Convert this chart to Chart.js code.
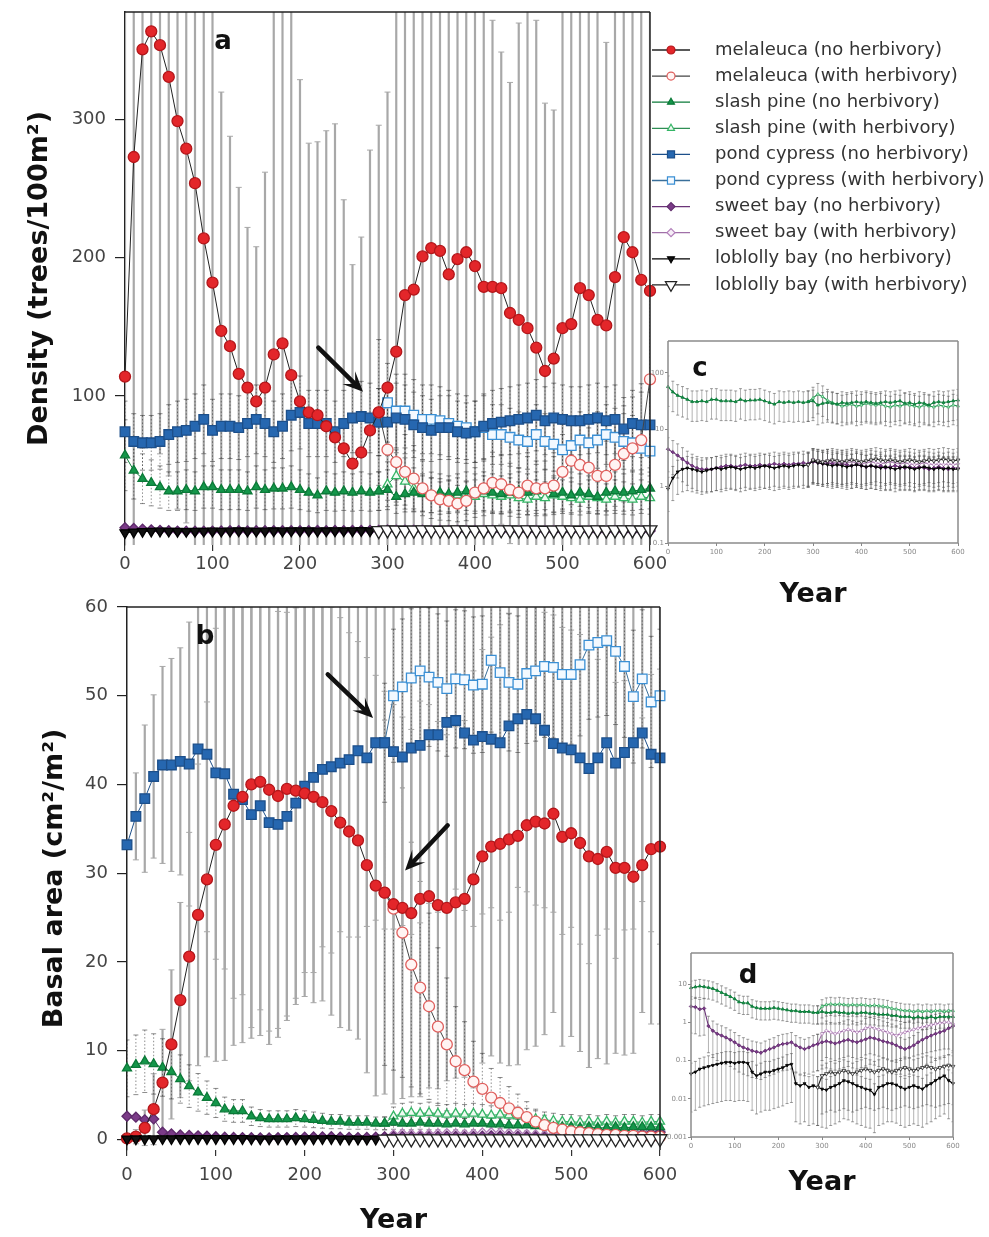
<!DOCTYPE html>
<html>
<head>
<meta charset="utf-8">
<script src="https://cdn.jsdelivr.net/npm/chart.js@4.4.1/dist/chart.umd.min.js"></script>
<style>
body { margin: 0; background: #fff; width: 989px; height: 1237px; position: relative; overflow: hidden; }
canvas { position: absolute; }
</style>
</head>
<body>
<canvas id="panelA" width="989" height="590" style="left:0px;top:0px"></canvas>
<canvas id="panelB" width="700" height="647" style="left:0px;top:590px"></canvas>
<canvas id="panelC" width="349" height="290" style="left:640px;top:330px"></canvas>
<canvas id="panelD" width="329" height="280" style="left:660px;top:930px"></canvas>
<script>
// simulation years (every 10 yr) and the years after herbivory starts
const years = [0,10,20,30,40,50,60,70,80,90,100,110,120,130,140,150,160,170,180,190,
  200,210,220,230,240,250,260,270,280,290,300,310,320,330,340,350,360,370,380,390,
  400,410,420,430,440,450,460,470,480,490,500,510,520,530,540,550,560,570,580,590,600];
const herbYears = [290,300,310,320,330,340,350,360,370,380,390,400,410,420,430,440,
  450,460,470,480,490,500,510,520,530,540,550,560,570,580,590,600];

const xTicks = [0,100,200,300,400,500,600];
const yTicksA = [100,200,300];
const yTicksB = [0,10,20,30,40,50,60];
const yTicksC = [0.1,1,10,100];
const yTicksD = [0.001,0.01,0.1,1,10];

// ---- density (trees/100m2) ----
const melA = [114,273,351,364,354,331,299,279,254,214,182,147,136,116,106,96,106,130,138,115,
  96,88,86,78,70,62,51,59,75,88,106,132,173,177,201,207,205,188,199,204,
  194,179,179,178,160,155,149,135,118,127,149,152,178,173,155,151,186,215,204,184,176];
const melASd = [306,287,289,296,296,289,281,271,266,246,218,173,152,135,116,112,156,260,262,270,
  233,195,198,214,227,180,144,156,203,208,214,288,267,273,259,263,255,252,251,246,
  236,221,193,171,167,215,251,237,194,180,251,258,242,247,245,205,234,225,226,236,234];
const melAH = [88,61,52,45,40,33,28,25,24,22,24,30,33,37,36,32,30,35,33,33,35,45,53,50,48,42,42,50,58,62,68,112];
const slashA = [57,46,40,37,34,31,31,32,31,34,34,32,32,32,31,34,32,33,33,34,
  32,30,28,31,30,31,30,31,30,31,32,27,29,30,29,28,30,29,30,31,
  30,31,30,29,30,31,30,31,32,29,30,28,30,29,27,30,31,30,31,32,33];
const slashAH = [31,36,42,38,33,30,28,26,27,28,26,27,29,28,27,28,26,25,27,26,28,27,26,25,27,26,25,27,26,25,27,26];
const pondA = [74,67,66,66,67,72,74,75,78,83,75,78,78,77,80,83,80,74,78,86,
  88,80,80,80,74,80,84,85,84,81,81,84,83,79,77,75,77,77,74,73,
  74,78,80,81,82,83,84,86,82,84,83,82,82,83,84,82,83,76,80,79,79];
const pondAH = [81,95,89,89,86,83,83,82,80,78,77,74,77,72,72,70,68,67,72,67,65,61,64,68,66,68,72,70,67,66,62,60];
const sweetA = [4.5,4.0,3.5,3.0,2.6,2.3,2.1,2.0,2.0,2.0,2.1,2.2,2.3,2.3,2.2,2.3,2.4,2.3,2.3,2.4,
  2.3,2.4,2.5,2.4,2.5,2.4,2.5,2.5,2.6,2.5,2.7,2.6,2.5,2.6,2.5,2.4,2.5,2.4,2.3,2.4,
  2.3,2.2,2.3,2.2,2.3,2.1,2.2,2.3,2.2,2.1,2.2,2.1,2.2,2.1,2.0,2.1,2.2,2.1,2.0,2.1,2.1];
const sweetAH = [2.5,2.9,2.8,2.7,2.8,2.7,2.6,2.7,2.6,2.7,2.6,2.5,2.6,2.7,2.6,2.5,2.6,2.7,2.6,2.5,2.6,2.5,2.4,2.5,2.6,2.5,2.4,2.5,2.4,2.5,2.4,2.5];
const loblollyA = [0.9,1.4,1.8,2.0,2.1,2.0,1.9,1.8,1.9,2.0,2.1,2.0,2.1,2.2,2.1,2.0,2.1,2.2,2.1,2.2,
  2.3,2.2,2.1,2.2,2.3,2.2,2.3,2.4,2.3,2.4,2.8,2.6,2.5,2.4,2.3,2.4,2.3,2.2,2.3,2.4,
  2.3,2.2,2.3,2.2,2.1,2.2,2.1,2.0,2.1,2.2,2.1,2.0,2.1,2.2,2.1,2.0,2.1,2.0,2.1,2.0,2.0];
const loblollyAH = [2.4,2.9,2.8,2.7,2.8,2.9,2.8,2.7,2.8,2.9,2.8,2.7,2.8,2.9,3.0,2.9,2.8,2.9,2.8,2.7,2.8,2.9,2.8,2.7,2.8,2.9,2.8,2.9,3.0,2.9,2.8,2.9];

// ---- basal area (cm2/m2) ----
const melB = [0.1,0.3,1.3,3.4,6.4,10.7,15.7,20.6,25.3,29.3,33.2,35.5,37.6,38.6,40.0,40.3,39.4,38.7,39.5,39.3,
  39.0,38.6,38.0,37.0,35.7,34.7,33.7,30.9,28.6,27.8,26.5,26.1,25.5,27.1,27.4,26.4,26.1,26.7,27.1,29.3,
  31.9,33.0,33.3,33.8,34.2,35.4,35.8,35.6,36.7,34.1,34.5,33.4,31.9,31.6,32.4,30.6,30.6,29.6,30.9,32.7,33.0];
const melBSd = [0.3,0.8,2,4,6,8.4,11,14,17,20,24.4,26.6,27,27.7,28.6,28.6,27.2,26.2,25.6,24.1,
  22.9,23.2,22.4,23,23.1,22.4,22.4,23.4,23.7,22.7,22.5,21.5,20.7,22.3,21.6,20.7,19.5,19.8,20.1,23.5,
  23.3,23.6,24.7,25.5,25.8,25.3,25.3,23.8,22.4,23.6,22.9,23.5,23.8,22.5,23.9,20.9,21.1,19.9,16.6,19.7,20];
const melBH = [27.8,26,23.3,19.7,17.1,15,12.7,10.7,8.8,7.8,6.5,5.7,4.7,4.1,3.5,3.0,2.5,2.0,1.6,1.3,1.1,0.9,0.8,0.7,0.6,0.5,0.5,0.4,0.4,0.3,0.3,0.3];
const pondB = [33.2,36.4,38.4,40.9,42.2,42.2,42.6,42.3,44.0,43.4,41.3,41.2,38.9,38.3,36.6,37.6,35.7,35.5,36.4,37.9,
  39.8,40.8,41.7,42.0,42.4,42.8,43.8,43.0,44.7,44.7,43.7,43.1,44.1,44.4,45.6,45.6,47.0,47.2,45.8,45.0,
  45.4,45.1,44.7,46.6,47.4,47.9,47.4,46.1,44.6,44.1,43.9,43.0,41.8,43.0,44.7,42.4,43.6,44.7,45.8,43.4,43.0];
const pondBSd = [0.5,4.9,8.3,9.2,11.1,12,12.8,16,19,20,21,22,23,22,24,23,25,24,23,22,
  21,22,20,21,19,20,21,19,20,21,20,19,21,20,19,20,21,19,20,21,
  20,19,20,21,19,20,21,20,19,21,20,21,22,20,21,22,20,21,19,20,21];
const pondBH = [44.7,50,51,52,52.8,52.1,51.5,50.8,51.9,51.8,51.2,51.3,54,52.6,51.5,51.3,52.5,52.8,53.3,53.2,52.4,52.4,53.5,55.7,56,56.2,55,53.3,49.9,51.9,49.3,50];
const slashB = [8.0,8.4,8.8,8.5,8.1,7.6,6.8,6.0,5.3,4.7,4.1,3.4,3.2,3.2,2.6,2.4,2.3,2.3,2.3,2.4,
  2.3,2.2,2.1,2.0,2.0,1.9,1.9,1.9,1.8,1.8,1.9,1.8,1.8,1.9,1.8,1.8,1.7,1.8,1.7,1.8,
  1.8,1.7,1.7,1.6,1.6,1.6,1.5,1.5,1.4,1.4,1.4,1.3,1.4,1.3,1.3,1.4,1.3,1.4,1.4,1.4,1.4];
const slashBH = [1.8,2.6,2.9,3.0,2.9,3.0,2.9,2.8,2.9,2.8,2.9,2.8,2.7,2.8,2.7,2.6,2.5,2.3,2.2,2.1,2.0,2.0,1.9,2.0,1.9,2.0,1.9,2.0,2.0,1.9,2.0,2.0];
const sweetB = [2.6,2.5,2.2,2.3,0.8,0.6,0.5,0.45,0.4,0.35,0.3,0.25,0.22,0.2,0.18,0.17,0.16,0.18,0.2,0.22,
  0.25,0.27,0.28,0.3,0.25,0.22,0.2,0.22,0.25,0.27,0.3,0.32,0.3,0.28,0.3,0.33,0.35,0.32,0.3,0.33,
  0.36,0.4,0.38,0.35,0.32,0.3,0.28,0.25,0.22,0.2,0.22,0.25,0.3,0.35,0.4,0.45,0.5,0.55,0.6,0.7,0.8];
const sweetBH = [0.27,0.5,0.6,0.55,0.5,0.55,0.6,0.65,0.6,0.55,0.6,0.7,0.75,0.7,0.65,0.6,0.55,0.5,0.45,0.5,0.55,0.6,0.65,0.7,0.75,0.8,0.85,0.9,0.95,1.0,1.0,0.9];
const loblollyB = [0.045,0.05,0.06,0.065,0.07,0.075,0.08,0.085,0.09,0.09,0.085,0.09,0.09,0.085,0.05,0.04,0.045,0.05,0.05,0.055,
  0.06,0.065,0.075,0.08,0.025,0.022,0.025,0.02,0.022,0.02,0.018,0.017,0.02,0.022,0.025,0.03,0.028,0.025,0.022,0.02,
  0.018,0.017,0.013,0.02,0.022,0.025,0.025,0.023,0.02,0.018,0.02,0.022,0.02,0.018,0.022,0.025,0.03,0.035,0.04,0.03,0.025];
const loblollyBH = [0.02,0.04,0.045,0.05,0.045,0.05,0.055,0.05,0.045,0.05,0.055,0.06,0.055,0.05,0.055,0.06,0.055,0.05,0.055,0.06,0.065,0.06,0.055,0.06,0.065,0.07,0.065,0.06,0.065,0.07,0.075,0.07];

Chart.defaults.font.family = "'DejaVu Sans', sans-serif";
Chart.defaults.color = '#444';

// marker look of each species / treatment
const looks = {
  melNo:   { label: 'melaleuca (no herbivory)',     shape: 'circle',  fill: '#e3262a', edge: '#b3161a', line: '#222',    r: 5.5, lr: 4 },
  melH:    { label: 'melaleuca (with herbivory)',   shape: 'circle',  fill: '#fff4f3', edge: '#e0605e', line: '#444',    r: 5.5, lr: 4 },
  slashNo: { label: 'slash pine (no herbivory)',    shape: 'triangle',fill: '#14964a', edge: '#0b7a38', line: '#0b7a38', r: 5.2, lr: 4 },
  slashH:  { label: 'slash pine (with herbivory)',  shape: 'triangle',fill: '#eefaf1', edge: '#35b566', line: '#2f8f55', r: 5.2, lr: 4 },
  pondNo:  { label: 'pond cypress (no herbivory)',  shape: 'rect',    fill: '#2667b0', edge: '#1c4f8a', line: '#1c4f8a', r: 6.8, lr: 5 },
  pondH:   { label: 'pond cypress (with herbivory)',shape: 'rect',    fill: '#f3f9ff', edge: '#3a8fd4', line: '#3a6f9a', r: 6.8, lr: 5 },
  sweetNo: { label: 'sweet bay (no herbivory)',     shape: 'rectRot', fill: '#7b3b88', edge: '#5e2a6b', line: '#6b3478', r: 5,   lr: 4 },
  sweetH:  { label: 'sweet bay (with herbivory)',   shape: 'rectRot', fill: '#f6eef7', edge: '#b27fba', line: '#a070a8', r: 5,   lr: 4 },
  lobNo:   { label: 'loblolly bay (no herbivory)',  shape: 'triangle',fill: '#111',    edge: '#000',    line: '#000',    r: 5.8, lr: 4, rot: 180, order: -0.5 },
  lobH:    { label: 'loblolly bay (with herbivory)',shape: 'triangle',fill: '#fff',    edge: '#222',    line: '#222',    r: 8,   lr: 6.5, rot: 180, order: -1 }
};

const grayBar = { errColor: '#a8a8a8', errWidth: 2.2, errCap: 3 };
const dotBar = { errColor: 'rgba(50,50,50,0.55)', errWidth: 1, errDash: [1.5, 2], errCap: 2.5 };
const thinBar = { errColor: 'rgba(80,80,80,0.55)', errWidth: 0.8, errCap: 1.5 };

function series(key, yrs, vals, small, err) {
  const s = looks[key];
  return Object.assign({
    label: s.label,
    data: vals.map((v, i) => ({ x: yrs[i], y: v })),
    borderColor: s.line,
    borderWidth: small ? 1.1 : 1,
    pointStyle: s.shape,
    pointRotation: s.rot || 0,
    pointRadius: small ? (key === 'lobH' ? 2.2 : 1.7) : s.r,
    pointBackgroundColor: s.fill,
    pointBorderColor: s.edge,
    pointBorderWidth: small ? 0.8 : 1.3,
    legendRadius: s.lr,
    order: s.order || 0,
    clip: false
  }, err);
}

// error bars: sd array, fixed sd, or a coefficient of variation
const errorBars = {
  id: 'errorBars',
  beforeDatasetsDraw(chart) {
    const { ctx, chartArea: a, scales: { x, y } } = chart;
    const log = y.type === 'logarithmic';
    ctx.save();
    ctx.beginPath();
    ctx.rect(a.left, a.top, a.right - a.left, a.bottom - a.top);
    ctx.clip();
    chart.data.datasets.forEach(ds => {
      if (ds.errSd == null && ds.errCv == null) return;
      ds.data.forEach((p, i) => {
        const sd = Array.isArray(ds.errSd) ? ds.errSd[i] : (ds.errSd != null ? ds.errSd : ds.errCv * p.y);
        let lo = p.y - sd;
        if (log && lo <= y.min) lo = y.min / 10;
        const px = x.getPixelForValue(p.x);
        const yt = y.getPixelForValue(p.y + sd);
        const yb = y.getPixelForValue(lo);
        ctx.strokeStyle = ds.errColor;
        ctx.lineWidth = ds.errWidth;
        ctx.setLineDash(ds.errDash || []);
        ctx.beginPath();
        ctx.moveTo(px, yt);
        ctx.lineTo(px, yb);
        ctx.stroke();
        ctx.setLineDash([]);
        ctx.lineWidth = 1;
        const c = ds.errCap;
        ctx.beginPath();
        ctx.moveTo(px - c, yt); ctx.lineTo(px + c, yt);
        ctx.moveTo(px - c, yb); ctx.lineTo(px + c, yb);
        ctx.stroke();
      });
    });
    ctx.restore();
  }
};

// extra sides of the plot box
const frame = {
  id: 'frame',
  afterDatasetsDraw(chart, args, opts) {
    if (!opts.sides) return;
    const { ctx, chartArea: a } = chart;
    ctx.save();
    ctx.strokeStyle = opts.color;
    ctx.lineWidth = opts.width;
    ctx.beginPath();
    if (opts.sides.includes('top')) { ctx.moveTo(a.left, a.top); ctx.lineTo(a.right, a.top); }
    if (opts.sides.includes('right')) { ctx.moveTo(a.right, a.top); ctx.lineTo(a.right, a.bottom); }
    if (opts.sides.includes('bottom')) { ctx.moveTo(a.left, a.bottom); ctx.lineTo(a.right, a.bottom); }
    if (opts.sides.includes('left')) { ctx.moveTo(a.left, a.top); ctx.lineTo(a.left, a.bottom); }
    ctx.stroke();
    ctx.restore();
  }
};

// panel letter and arrows (arrows given in data units)
const notes = {
  id: 'notes',
  afterDatasetsDraw(chart, args, opts) {
    if (!opts.letter) return;
    const { ctx, chartArea: a, scales: { x, y } } = chart;
    ctx.save();
    ctx.fillStyle = '#111';
    ctx.font = "bold 26px 'DejaVu Sans'";
    ctx.textAlign = 'center';
    ctx.textBaseline = 'middle';
    ctx.fillText(opts.letter, a.left + opts.dx, a.top + opts.dy);
    (opts.arrows || []).forEach(([x1, y1, x2, y2]) => {
      const sx = x.getPixelForValue(x1), sy = y.getPixelForValue(y1);
      const tx = x.getPixelForValue(x2), ty = y.getPixelForValue(y2);
      const ang = Math.atan2(ty - sy, tx - sx);
      const L = 20, W = 9;
      const cs = Math.cos(ang), sn = Math.sin(ang);
      ctx.strokeStyle = '#111';
      ctx.lineWidth = 4.5;
      ctx.lineCap = 'round';
      ctx.beginPath();
      ctx.moveTo(sx, sy);
      ctx.lineTo(tx - cs * L * 0.6, ty - sn * L * 0.6);
      ctx.stroke();
      ctx.beginPath();
      ctx.moveTo(tx, ty);
      ctx.lineTo(tx - cs * L - sn * W, ty - sn * L + cs * W);
      ctx.lineTo(tx - cs * L * 0.55, ty - sn * L * 0.55);
      ctx.lineTo(tx - cs * L + sn * W, ty - sn * L - cs * W);
      ctx.closePath();
      ctx.fill();
    });
    ctx.restore();
  }
};

// legend beside panel a: line sample with marker, then the label
const sideLegend = {
  id: 'sideLegend',
  afterDraw(chart, args, opts) {
    if (opts.x == null) return;
    const ctx = chart.ctx;
    chart.data.datasets.forEach((ds, i) => {
      const y = opts.y + i * opts.rowH;
      ctx.save();
      ctx.strokeStyle = ds.borderColor;
      ctx.lineWidth = 1.3;
      ctx.beginPath();
      ctx.moveTo(opts.x, y);
      ctx.lineTo(opts.x + opts.lineW, y);
      ctx.stroke();
      ctx.fillStyle = ds.pointBackgroundColor;
      ctx.strokeStyle = ds.pointBorderColor;
      ctx.lineWidth = 1.2;
      Chart.helpers.drawPoint(ctx, { pointStyle: ds.pointStyle, rotation: ds.pointRotation, radius: ds.legendRadius, borderWidth: 1.2 }, opts.x + opts.lineW / 2, y);
      ctx.fillStyle = '#333';
      ctx.font = "18px 'DejaVu Sans'";
      ctx.textBaseline = 'middle';
      ctx.fillText(ds.label, opts.textX, y);
      ctx.restore();
    });
  }
};

Chart.register(errorBars, frame, notes, sideLegend);

function setTicks(vals) {
  return s => { s.ticks = vals.map(v => ({ value: v })); };
}

function linearX(height, pad, title) {
  return {
    type: 'linear', min: 0, max: 600,
    afterBuildTicks: setTicks(xTicks),
    afterFit: s => { s.height = height; },
    border: { display: false },
    grid: { drawOnChartArea: false, tickLength: 6, color: '#333', lineWidth: 1.2 },
    ticks: { font: { size: 18 }, color: '#444', padding: pad, maxRotation: 0, autoSkip: false },
    title: title ? { display: true, text: 'Year', color: '#111', font: { size: 27, weight: 'bold' }, padding: { top: 0, bottom: 0 } } : { display: false }
  };
}

function linearY(min, max, ticks, width, text, padTop) {
  return {
    min: min, max: max,
    afterBuildTicks: setTicks(ticks),
    // fixed axis width; the layout padding alone sets the top of the plot
    afterFit: s => { s.width = width; s.paddingTop = 0; s.paddingBottom = 0; },
    border: { display: true, color: '#222', width: 1.5 },
    grid: { drawOnChartArea: false, tickLength: 10, color: '#222', lineWidth: 1.2 },
    ticks: { font: { size: 18 }, color: '#444', padding: 9, autoSkip: false },
    title: { display: true, text: text, color: '#111', font: { size: 27, weight: 'bold' }, padding: { top: padTop, bottom: 0 } }
  };
}

function insetScales(ymin, ymax, yTicks, yWidth, xHeight, titlePad) {
  return {
    x: {
      type: 'linear', min: 0, max: 600,
      afterBuildTicks: setTicks(xTicks),
      afterFit: s => { s.height = xHeight; },
      border: { display: false },
      grid: { drawOnChartArea: false, tickLength: 3, color: '#888' },
      ticks: { font: { size: 7 }, color: '#888', padding: 2, maxRotation: 0, autoSkip: false },
      title: { display: true, text: 'Year', color: '#111', font: { size: 27, weight: 'bold' }, padding: { top: 0, bottom: titlePad } }
    },
    y: {
      type: 'logarithmic', min: ymin, max: ymax,
      afterBuildTicks: setTicks(yTicks),
      afterFit: s => { s.width = yWidth; s.paddingTop = 0; s.paddingBottom = 0; },
      border: { display: false },
      grid: { drawOnChartArea: false, tickLength: 3, color: '#888' },
      ticks: { font: { size: 7 }, color: '#888', padding: 1, autoSkip: false, callback: v => String(v) }
    }
  };
}

const baseOpts = {
  responsive: false,
  animation: false,
  devicePixelRatio: 1,
  elements: { line: { tension: 0 } }
};

// a: density
new Chart(document.getElementById('panelA'), {
  type: 'line',
  data: {
    datasets: [
      series('melNo', years, melA, false, Object.assign({ errSd: melASd }, grayBar)),
      series('melH', herbYears, melAH, false, Object.assign({ errCv: 0.6 }, dotBar)),
      series('slashNo', years, slashA, false, Object.assign({ errCv: 0.45 }, dotBar)),
      series('slashH', herbYears, slashAH, false, Object.assign({ errCv: 0.45 }, dotBar)),
      series('pondNo', years, pondA, false, Object.assign({ errCv: 0.3 }, dotBar)),
      series('pondH', herbYears, pondAH, false, Object.assign({ errCv: 0.3 }, dotBar)),
      series('sweetNo', years, sweetA, false, {}),
      series('sweetH', herbYears, sweetAH, false, {}),
      series('lobNo', years, loblollyA, false, {}),
      series('lobH', herbYears, loblollyAH, false, {})
    ]
  },
  options: Object.assign({}, baseOpts, {
    layout: { padding: { top: 12, right: 339, left: 0, bottom: 0 } },
    scales: {
      x: linearX(45, 3, false),
      y: linearY(-8, 378, yTicksA, 125, 'Density (trees/100m²)', 24)
    },
    plugins: {
      legend: { display: false },
      tooltip: { enabled: false },
      frame: { sides: ['top', 'right'], color: '#222', width: 1.5 },
      notes: { letter: 'a', dx: 98, dy: 30, arrows: [[221, 135, 272, 103]] },
      sideLegend: { x: 652, y: 50, rowH: 26.1, lineW: 38, textX: 715 }
    }
  })
});

// b: basal area
new Chart(document.getElementById('panelB'), {
  type: 'line',
  data: {
    datasets: [
      series('melNo', years, melB, false, Object.assign({ errSd: melBSd }, grayBar)),
      series('melH', herbYears, melBH, false, Object.assign({ errCv: 0.7 }, dotBar)),
      series('slashNo', years, slashB, false, Object.assign({ errCv: 0.4 }, dotBar)),
      series('slashH', herbYears, slashBH, false, Object.assign({ errCv: 0.4 }, dotBar)),
      series('pondNo', years, pondB, false, Object.assign({ errSd: pondBSd }, grayBar)),
      series('pondH', herbYears, pondBH, false, Object.assign({ errCv: 0.15 }, dotBar)),
      series('sweetNo', years, sweetB, false, {}),
      series('sweetH', herbYears, sweetBH, false, {}),
      series('lobNo', years, loblollyB, false, {}),
      series('lobH', herbYears, loblollyBH, false, {})
    ]
  },
  options: Object.assign({}, baseOpts, {
    layout: { padding: { top: 17, right: 40, left: 0, bottom: 0 } },
    scales: {
      x: linearX(87, 9, true),
      y: linearY(-1.2, 60, yTicksB, 127, 'Basal area (cm²/m²)', 39)
    },
    plugins: {
      legend: { display: false },
      tooltip: { enabled: false },
      frame: { sides: ['top', 'right'], color: '#222', width: 1.5 },
      notes: { letter: 'b', dx: 78, dy: 30, arrows: [[226, 52.4, 277, 47.5], [361, 35.4, 313, 30.3]] }
    }
  })
});

// c: density of the minor species, log scale
new Chart(document.getElementById('panelC'), {
  type: 'line',
  data: {
    datasets: [
      series('slashNo', years, slashA, true, Object.assign({ errCv: 0.55 }, thinBar)),
      series('slashH', herbYears, slashAH, true, Object.assign({ errCv: 0.55 }, thinBar)),
      series('sweetNo', years, sweetA, true, Object.assign({ errCv: 0.6 }, thinBar)),
      series('sweetH', herbYears, sweetAH, true, Object.assign({ errCv: 0.6 }, thinBar)),
      series('lobNo', years, loblollyA, true, Object.assign({ errCv: 0.6 }, thinBar)),
      series('lobH', herbYears, loblollyAH, true, Object.assign({ errCv: 0.6 }, thinBar))
    ]
  },
  options: Object.assign({}, baseOpts, {
    layout: { padding: { top: 11, right: 31, left: 0, bottom: 0 } },
    scales: insetScales(0.1, 365, yTicksC, 28, 77, 9),
    plugins: {
      legend: { display: false },
      tooltip: { enabled: false },
      frame: { sides: ['top', 'right', 'bottom', 'left'], color: '#8c8c8c', width: 1.5 },
      notes: { letter: 'c', dx: 32, dy: 28, arrows: [] }
    }
  })
});

// d: basal area of the minor species, log scale
new Chart(document.getElementById('panelD'), {
  type: 'line',
  data: {
    datasets: [
      series('slashNo', years, slashB, true, Object.assign({ errCv: 0.5 }, thinBar)),
      series('slashH', herbYears, slashBH, true, Object.assign({ errCv: 0.5 }, thinBar)),
      series('sweetNo', years, sweetB, true, Object.assign({ errCv: 0.8 }, thinBar)),
      series('sweetH', herbYears, sweetBH, true, Object.assign({ errCv: 0.8 }, thinBar)),
      series('lobNo', years, loblollyB, true, Object.assign({ errCv: 0.9 }, thinBar)),
      series('lobH', herbYears, loblollyBH, true, Object.assign({ errCv: 0.9 }, thinBar))
    ]
  },
  options: Object.assign({}, baseOpts, {
    layout: { padding: { top: 23, right: 36, left: 0, bottom: 0 } },
    scales: insetScales(0.001, 65, yTicksD, 31, 73, 11),
    plugins: {
      legend: { display: false },
      tooltip: { enabled: false },
      frame: { sides: ['top', 'right', 'bottom', 'left'], color: '#8c8c8c', width: 1.5 },
      notes: { letter: 'd', dx: 57, dy: 23, arrows: [] }
    }
  })
});
</script>
</body>
</html>
